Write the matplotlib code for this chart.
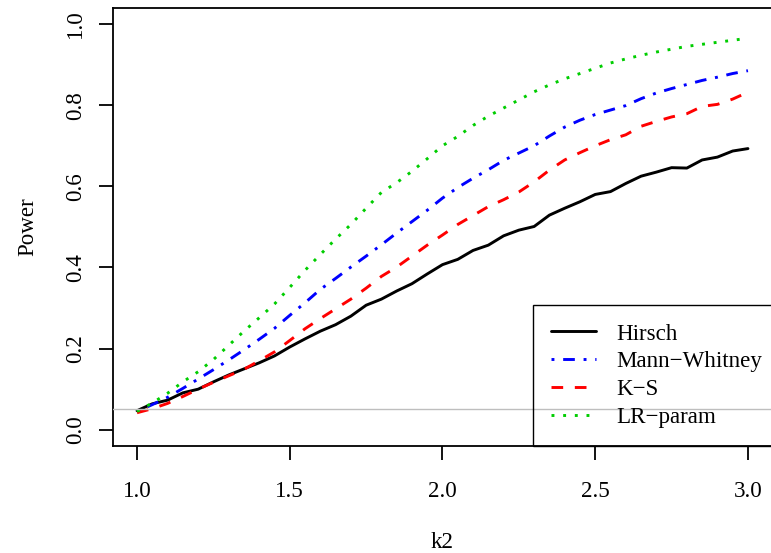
import matplotlib
matplotlib.use("Agg")
import matplotlib.pyplot as plt

plt.rcParams['font.family'] = ['Liberation Serif', 'DejaVu Serif']
plt.rcParams['lines.scale_dashes'] = False

k2 = [1.00, 1.05, 1.10, 1.15, 1.20, 1.25, 1.30, 1.35, 1.40, 1.45,
      1.50, 1.55, 1.60, 1.65, 1.70, 1.75, 1.80, 1.85, 1.90, 1.95,
      2.00, 2.05, 2.10, 2.15, 2.20, 2.25, 2.30, 2.35, 2.40, 2.45,
      2.50, 2.55, 2.60, 2.65, 2.70, 2.75, 2.80, 2.85, 2.90, 2.95, 3.00]

hirsch = [0.047, 0.064, 0.073, 0.091, 0.100, 0.118, 0.135, 0.150, 0.165, 0.182,
          0.204, 0.224, 0.243, 0.259, 0.280, 0.307, 0.322, 0.342, 0.360, 0.384,
          0.407, 0.420, 0.442, 0.455, 0.478, 0.492, 0.501, 0.529, 0.546, 0.562,
          0.580, 0.587, 0.607, 0.625, 0.635, 0.646, 0.645, 0.665, 0.672, 0.687, 0.693]

mann_whitney = [0.045, 0.062, 0.080, 0.102, 0.125, 0.148, 0.172, 0.197, 0.223, 0.250,
                0.282, 0.313, 0.346, 0.373, 0.401, 0.428, 0.456, 0.485, 0.513, 0.541,
                0.571, 0.597, 0.620, 0.641, 0.664, 0.682, 0.700, 0.724, 0.746, 0.763,
                0.777, 0.788, 0.799, 0.816, 0.830, 0.841, 0.851, 0.861, 0.869, 0.878, 0.885]

ks = [0.042, 0.052, 0.065, 0.082, 0.100, 0.117, 0.133, 0.149, 0.170, 0.192,
      0.220, 0.249, 0.274, 0.298, 0.322, 0.349, 0.378, 0.401, 0.428, 0.455,
      0.480, 0.506, 0.528, 0.550, 0.567, 0.586, 0.611, 0.640, 0.665, 0.683,
      0.700, 0.715, 0.727, 0.748, 0.760, 0.771, 0.779, 0.797, 0.802, 0.815, 0.832]

lr_param = [0.045, 0.066, 0.090, 0.118, 0.143, 0.173, 0.208, 0.243, 0.276, 0.310,
            0.351, 0.393, 0.432, 0.470, 0.506, 0.546, 0.585, 0.609, 0.637, 0.668,
            0.700, 0.723, 0.750, 0.773, 0.793, 0.813, 0.833, 0.850, 0.865, 0.878,
            0.891, 0.904, 0.914, 0.923, 0.931, 0.938, 0.945, 0.950, 0.955, 0.960, 0.965]

labels = ["Hirsch", "Mann\u2212Whitney", "K\u2212S", "LR\u2212param"]
alpha_level = 0.05

fs = 16.6
W, H = 771, 553
fig = plt.figure(figsize=(W / 100, H / 100), dpi=100)
# plot region in pixels: x 112.6..772.4, y 7.8..446
ax = fig.add_axes([112.6 / W, (H - 446) / H, (772.4 - 112.6) / W, (446 - 7.8) / H])

lw = 2.1
ax.plot(k2, hirsch, color='black', lw=lw, solid_capstyle='round', label=labels[0])
ax.plot(k2, mann_whitney, color='blue', lw=lw, dashes=(2.1, 6.3, 8.4, 6.3),
        dash_capstyle='butt', label=labels[1])
ax.plot(k2, ks, color='red', lw=lw, dashes=(8.4, 8.4), dash_capstyle='butt', label=labels[2])
ax.plot(k2, lr_param, color='#00CD00', lw=lw, dashes=(2.1, 6.3),
        dash_capstyle='butt', label=labels[3])
ax.axhline(alpha_level, color='#BEBEBE', lw=1.0, zorder=3)

ax.set_xlim(0.92, 3.08)
ax.set_ylim(-0.04, 1.04)
ax.set_xticks([1.0, 1.5, 2.0, 2.5, 3.0])
ax.set_xticklabels(["1.0", "1.5", "2.0", "2.5", "3.0"])
ax.set_yticks([0.0, 0.2, 0.4, 0.6, 0.8, 1.0])
ax.set_yticklabels(["0.0", "0.2", "0.4", "0.6", "0.8", "1.0"], rotation=90, va='center')

for s in ax.spines.values():
    s.set_linewidth(1.3)
ax.tick_params(axis='both', direction='out', length=10, width=1.3, labelsize=fs)
ax.tick_params(axis='x', pad=15.5)
ax.tick_params(axis='y', pad=9.0)

ax.set_xlabel("k2", fontsize=fs)
ax.set_ylabel("Power", fontsize=fs)
ax.xaxis.set_label_coords(0.5, -0.196)
ax.yaxis.set_label_coords(-0.113, 0.5)

leg = ax.legend(loc='lower left', bbox_to_anchor=(0.637, 0.0), borderaxespad=0,
                fontsize=fs, frameon=True, fancybox=False, framealpha=1,
                facecolor='none', edgecolor='black', handlelength=1.96,
                handletextpad=0.87, borderpad=0.78, labelspacing=0.29)
leg.get_frame().set_linewidth(1.0)

fig.savefig("out.png", dpi=100)
